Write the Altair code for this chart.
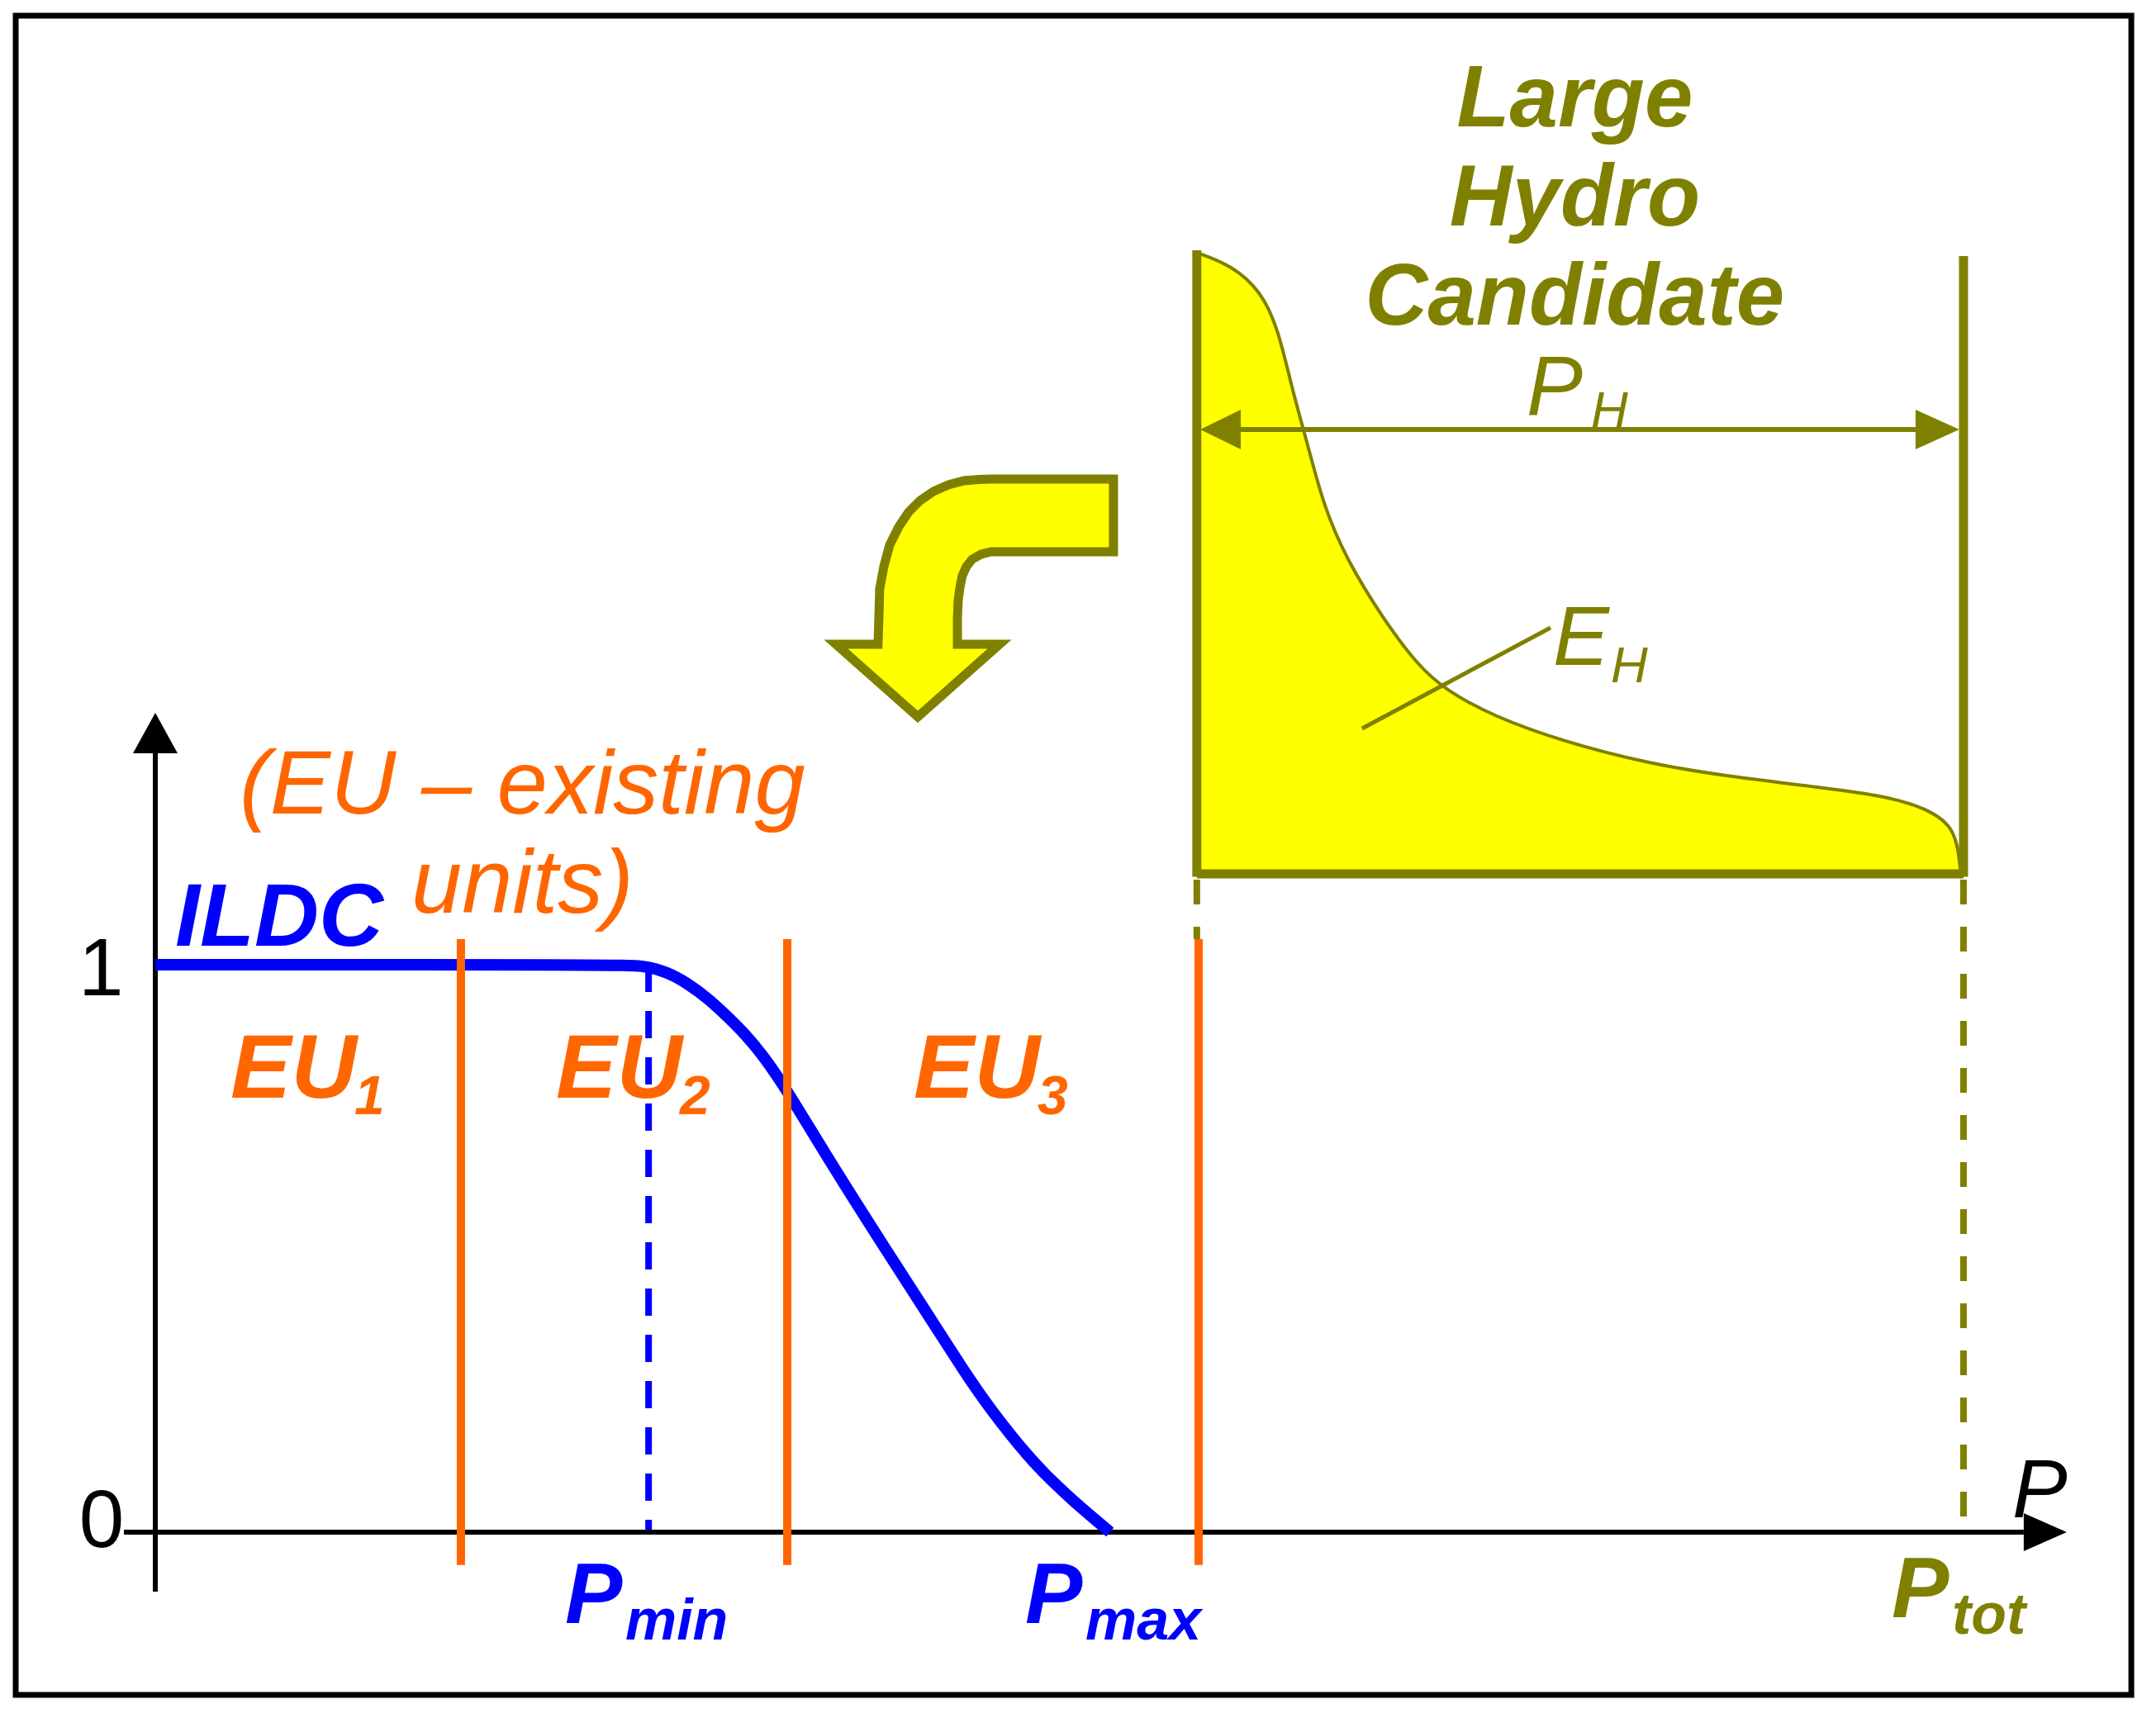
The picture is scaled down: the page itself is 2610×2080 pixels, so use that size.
import altair as alt
import pandas as pd

# ---------------- data: x = power P (% of P_tot), y = ILDC value (p.u.) ----------------
# ILDC curve
ildc_p = [0, 25.6, 27.1, 28.3, 29.4, 30.6, 31.7, 32.7, 33.6, 34.8, 37.4, 40.4, 43.2, 44.6, 46.2,
          48.4, 49.6, 50.7, 51.8, 52.8]
ildc_v = [1, 1, 0.998, 0.987, 0.968, 0.940, 0.907, 0.875, 0.840, 0.786, 0.648, 0.498, 0.360,
          0.290, 0.215, 0.128, 0.090, 0.057, 0.027, 0.0]

p_min = 27.28
p_max = 52.6
p_tot = 100.0
eu_bounds = [16.9, 34.95, 57.7]          # boundaries of existing units EU1..EU3
eu_line_top, eu_line_bottom = 1.045, -0.058

# large hydro candidate (energy curve E_H inside box of width P_H)
hydro_start = 57.6
hydro_p = [57.6, 59.5, 61.1, 62.1, 62.9, 63.7, 64.6, 65.9, 67.9, 69.8, 71.4, 74.0, 77.8,
           82.6, 87.4, 92.2, 95.75, 98.0, 99.3, 99.7, 99.85]
hydro_v = [2.255, 2.233, 2.189, 2.122, 2.010, 1.921, 1.809, 1.713, 1.610, 1.528, 1.483,
           1.438, 1.394, 1.354, 1.330, 1.312, 1.297, 1.275, 1.246, 1.208, 1.16]
hydro_base = 1.16
hydro_top_left, hydro_top_right = 2.259, 2.249
ph_level = 1.9432
ph_left_tip, ph_left_base = 57.79, 60.03
ph_right_tip, ph_right_base = 99.77, 97.35
eh_leader = [(66.74, 1.4163), (77.16, 1.5939)]

# curved yellow arrow outline (clockwise)
arrow_x = [46.23, 52.99, 52.99, 46.23, 45.68, 45.18, 44.86, 44.63, 44.50, 44.40, 44.36, 44.36,
           46.69, 42.17, 37.64, 39.97, 40.02, 40.06, 40.29, 40.61, 41.11, 41.66, 42.30, 43.03,
           43.86, 44.72, 45.55, 46.23, 52.99]
arrow_y = [1.8559, 1.8559, 1.7278, 1.7278, 1.7234, 1.7147, 1.7016, 1.6856, 1.6652, 1.6419,
           1.6084, 1.5648, 1.5648, 1.4367, 1.5648, 1.5648, 1.6157, 1.6623, 1.7016, 1.7394,
           1.7715, 1.7977, 1.8181, 1.8341, 1.8457, 1.8530, 1.8552, 1.8559, 1.8559]

# axes
y_axis_bottom, y_axis_top, y_axis_tip = -0.1048, 1.3726, 1.4440
x_axis_left, x_axis_right, x_axis_tip = -1.736, 103.33, 105.71
frame = (-7.72, 109.28, 2.6726, -0.2868)

# labels
title_lines = [("Large", 78.5, 2.4774), ("Hydro", 78.5, 2.3028), ("Candidate", 78.5, 2.1281)]
eu_labels = [("EU", 4.16, 0.7656), ("EU", 22.16, 0.7656), ("EU", 41.94, 0.7656)]
eu_subs = [("1", 11.01, 0.7365), ("2", 29.01, 0.7365), ("3", 48.79, 0.7365)]

OLIVE = "#808000"
YELLOW = "#FFFF00"
ORANGE = "#FF6600"
BLUE = "#0000FF"
FONT = "Liberation Sans"

XS = alt.Scale(domain=[-8.223, 110.28], nice=False, zero=False)
YS = alt.Scale(domain=[-0.3159, 2.6885], nice=False, zero=False)


def xe(f="x"):
    return alt.X(f"{f}:Q", scale=XS, axis=None)


def ye(f="y"):
    return alt.Y(f"{f}:Q", scale=YS, axis=None)


def segs(rows, color, width, dash=None, cap="butt"):
    df = pd.DataFrame(rows, columns=["x", "y", "x2", "y2"])
    kw = dict(color=color, strokeWidth=width, strokeCap=cap)
    if dash:
        kw["strokeDash"] = dash
    return alt.Chart(df).mark_rule(**kw).encode(x=xe(), y=ye(), x2="x2:Q", y2="y2:Q")


def tri_h(tip, base, cy, half, color):
    df = pd.DataFrame({"x": [base, tip], "y": [cy - half, cy], "y2": [cy + half, cy]})
    return alt.Chart(df).mark_area(color=color, orient="vertical", interpolate="linear").encode(
        x=xe(), y=ye(), y2="y2:Q")


def tri_v(tip, base, cx, half, color):
    df = pd.DataFrame({"y": [base, tip], "x": [cx - half, cx], "x2": [cx + half, cx]})
    return alt.Chart(df).mark_area(color=color, orient="horizontal", interpolate="linear").encode(
        x=xe(), y=ye(), x2="x2:Q")


def texts(rows, color, size, weight="normal", style="italic", align="left"):
    df = pd.DataFrame(rows, columns=["t", "x", "y"])
    return alt.Chart(df).mark_text(color=color, fontSize=size, fontWeight=weight, fontStyle=style,
                                   font=FONT, align=align, baseline="alphabetic").encode(
        x=xe(), y=ye(), text="t:N")


layers = []

# frame
layers.append(alt.Chart(pd.DataFrame({"x": [frame[0]], "x2": [frame[1]], "y": [frame[2]], "y2": [frame[3]]}))
              .mark_rect(filled=False, color="black", strokeWidth=7)
              .encode(x=xe(), x2="x2:Q", y=ye(), y2="y2:Q"))

# hydro energy area + outline
hdf = pd.DataFrame({"x": hydro_p, "y": hydro_v, "y2": [hydro_base] * len(hydro_p)})
layers.append(alt.Chart(hdf).mark_area(color=YELLOW, interpolate="basis").encode(x=xe(), y=ye(), y2="y2:Q"))
layers.append(alt.Chart(hdf).mark_line(color=OLIVE, strokeWidth=4, interpolate="basis").encode(x=xe(), y=ye()))

# hydro box
layers.append(segs([(hydro_start, hydro_top_left, hydro_start, hydro_base - 0.005),
                    (p_tot, hydro_top_right, p_tot, hydro_base - 0.005),
                    (hydro_start, hydro_base, p_tot, hydro_base)], OLIVE, 11))
# P_H dimension arrow and E_H leader
layers.append(segs([(ph_left_base, ph_level, ph_right_base, ph_level)], OLIVE, 6))
layers.append(tri_h(ph_left_tip, ph_left_base, ph_level, 0.035, OLIVE))
layers.append(tri_h(ph_right_tip, ph_right_base, ph_level, 0.035, OLIVE))
layers.append(segs([(eh_leader[0][0], eh_leader[0][1], eh_leader[1][0], eh_leader[1][1])], OLIVE, 5))

# curved yellow arrow (closed, filled outline)
odf = pd.DataFrame({"x": arrow_x, "y": arrow_y, "i": list(range(len(arrow_x)))})
layers.append(alt.Chart(odf).mark_line(fill=YELLOW, stroke=OLIVE, strokeWidth=11, strokeJoin="miter",
                                       interpolate="linear").encode(x=xe(), y=ye(), order="i:Q"))

# dashed projection lines
layers.append(segs([(p_tot, hydro_base - 0.01, p_tot, 0), (hydro_start, hydro_base - 0.01, hydro_start, eu_line_top)],
                   OLIVE, 8, dash=[30, 27]))
layers.append(segs([(p_min, 1.0, p_min, 0)], BLUE, 8, dash=[33, 23]))

# axes
layers.append(segs([(0, y_axis_bottom, 0, y_axis_top), (x_axis_left, 0, x_axis_right, 0)], "black", 6))
layers.append(tri_v(y_axis_tip, y_axis_top, 0, 1.233, "black"))
layers.append(tri_h(x_axis_tip, x_axis_right, 0, 0.0335, "black"))

# ILDC curve
layers.append(alt.Chart(pd.DataFrame({"x": ildc_p, "y": ildc_v})).mark_line(
    color=BLUE, strokeWidth=14, interpolate="basis").encode(x=xe(), y=ye()))

# EU boundaries
layers.append(segs([(b, eu_line_top, b, eu_line_bottom) for b in eu_bounds], ORANGE, 10))

# texts
layers.append(texts(title_lines, OLIVE, 105, weight="bold", align="center"))
layers.append(texts([("P", 75.83, 1.9694), ("E", 77.30, 1.5284)], OLIVE, 102))
layers.append(texts([("H", 79.40, 1.9476), ("H", 80.49, 1.4978)], OLIVE, 62))
layers.append(texts([("(EU – existing", 4.66, 1.2664), ("units)", 14.16, 1.0917)], ORANGE, 110))
layers.append(texts([("ILDC", 1.10, 1.0335)], BLUE, 108, weight="bold"))
layers.append(texts([("1", -3.0, 0.9461), ("0", -2.97, -0.0262)], "black", 98, style="normal", align="center"))
layers.append(texts(eu_labels, ORANGE, 110, weight="bold"))
layers.append(texts(eu_subs, ORANGE, 66, weight="bold"))
layers.append(texts([("P", 22.66, -0.1601), ("P", 48.10, -0.1601)], BLUE, 104, weight="bold"))
layers.append(texts([("min", 25.99, -0.1892), ("max", 51.44, -0.1892)], BLUE, 70, weight="bold"))
layers.append(texts([("P", 96.03, -0.1499)], OLIVE, 104, weight="bold"))
layers.append(texts([("tot", 99.36, -0.1790)], OLIVE, 70, weight="bold"))
layers.append(texts([("P", 102.7, 0.0262)], "black", 100))

chart = alt.layer(*layers).properties(
    width=2594, height=2064, padding=0, autosize="none", background="white"
).configure_view(strokeWidth=0)

chart.save("out.html", embed_options={"renderer": "svg", "actions": False})
